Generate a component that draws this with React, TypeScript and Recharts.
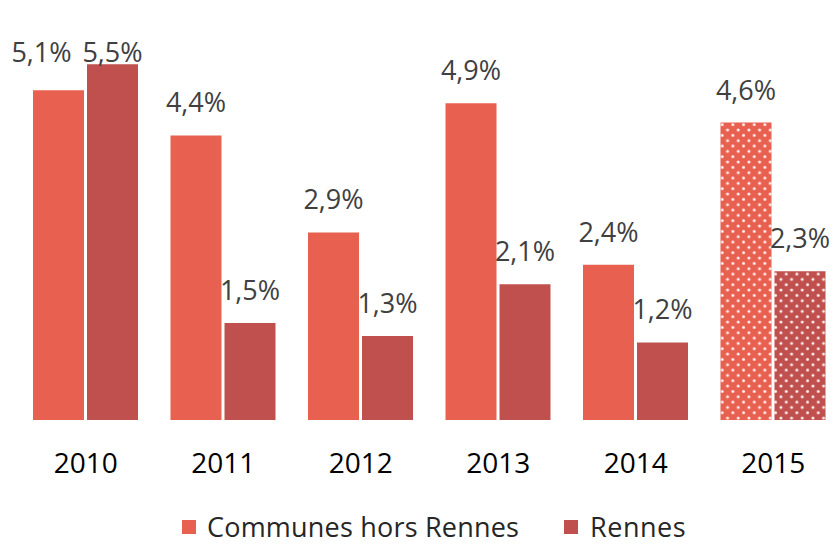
import { Bar, BarChart, Cell, LabelList, XAxis, YAxis } from "recharts";

const years = ["2010", "2011", "2012", "2013", "2014", "2015"];
const communesValues = [5.1, 4.4, 2.9, 4.9, 2.4, 4.6];
const rennesValues = [5.5, 1.5, 1.3, 2.1, 1.2, 2.3];
// the last year is an estimate, drawn with dots
const estimatedYears = ["2015"];

const COMMUNES = "#E8604F";
const RENNES = "#C0504D";
const FONT = "'Open Sans', sans-serif";

const data = years.map((year, i) => ({
  year,
  communes: communesValues[i],
  rennes: rennesValues[i],
}));

const formatPct = (v: number) => v.toFixed(1).replace(".", ",") + "%";

const makeLabel = (series: string) => (props: any) => {
  const { x, y, width, value, index } = props;
  let cx = x + width / 2;
  let baseline = Math.max(y - 23, 62);
  // 2010: both labels sit on the same line, the first one pushed left
  if (index === 0 && series === "communes") {
    cx -= 17;
    baseline = 62;
  }
  return (
    <text
      x={cx}
      y={baseline}
      textAnchor="middle"
      fill="#404040"
      fontSize={27}
      fontFamily={FONT}
    >
      {formatPct(value)}
    </text>
  );
};

export default function App() {
  return (
    <div
      style={{
        position: "absolute",
        left: 0,
        top: 0,
        width: 836,
        height: 547,
        overflow: "hidden",
        background: "#fff",
      }}
    >
      <BarChart
        width={842}
        height={547}
        data={data}
        margin={{ top: 32, right: 0, bottom: 0, left: 17 }}
        barGap={3}
        barSize={51}
      >
        <defs>
          <pattern
            id="dotsCommunes"
            patternUnits="userSpaceOnUse"
            width={10.67}
            height={10.67}
          >
            <rect width={10.67} height={10.67} fill={COMMUNES} />
            <circle cx={2} cy={2} r={1.5} fill="#fff" fillOpacity={0.9} />
            <circle cx={7.33} cy={7.33} r={1.5} fill="#fff" fillOpacity={0.9} />
          </pattern>
          <pattern
            id="dotsRennes"
            patternUnits="userSpaceOnUse"
            width={10.67}
            height={10.67}
          >
            <rect width={10.67} height={10.67} fill={RENNES} />
            <circle cx={2} cy={2} r={1.5} fill="#fff" fillOpacity={0.9} />
            <circle cx={7.33} cy={7.33} r={1.5} fill="#fff" fillOpacity={0.9} />
          </pattern>
        </defs>
        <XAxis
          dataKey="year"
          axisLine={false}
          tickLine={false}
          tickSize={0}
          tickMargin={33}
          height={127}
          interval={0}
          tick={{ fill: "#000", fontSize: 28, fontFamily: FONT }}
        />
        <YAxis hide domain={[0, 6]} />
        <Bar dataKey="communes" fill={COMMUNES} isAnimationActive={false}>
          {data.map((d) => (
            <Cell
              key={d.year}
              fill={estimatedYears.includes(d.year) ? "url(#dotsCommunes)" : COMMUNES}
            />
          ))}
          <LabelList dataKey="communes" content={makeLabel("communes")} />
        </Bar>
        <Bar dataKey="rennes" fill={RENNES} isAnimationActive={false}>
          {data.map((d) => (
            <Cell
              key={d.year}
              fill={estimatedYears.includes(d.year) ? "url(#dotsRennes)" : RENNES}
            />
          ))}
          <LabelList dataKey="rennes" content={makeLabel("rennes")} />
        </Bar>
      </BarChart>
      <div
        style={{
          position: "absolute",
          top: 508,
          left: 182,
          display: "flex",
          alignItems: "center",
          fontFamily: FONT,
          fontSize: 27,
          color: "#262626",
          lineHeight: "38px",
        }}
      >
        <span style={{ width: 14, height: 14, background: COMMUNES, marginRight: 11 }} />
        <span style={{ letterSpacing: 0.2 }}>Communes hors Rennes</span>
        <span
          style={{ width: 14, height: 14, background: RENNES, marginLeft: 45, marginRight: 12 }}
        />
        <span style={{ letterSpacing: 0.5 }}>Rennes</span>
      </div>
    </div>
  );
}
